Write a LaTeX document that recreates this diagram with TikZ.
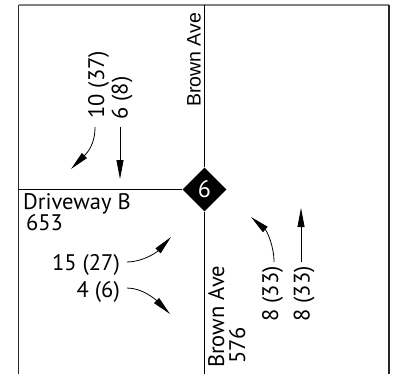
\documentclass[tikz,border=0pt]{standalone}
\usepackage{fontspec}
\setmainfont{PT Sans}
\newfontfamily\arialfont{Liberation Sans}
\usetikzlibrary{arrows.meta}
\begin{document}
\begin{tikzpicture}[x=1pt,y=-1pt,
  lbl/.style={inner sep=0pt, font=\fontsize{22.5}{24}\selectfont},
  road/.style={line width=1pt, black},
  frame/.style={line width=1.4pt},
  mv/.style={line width=0.8pt, -{Triangle[length=19pt,width=7pt]}}]
\useasboundingbox (0,0) rectangle (398,374);
% frame
\draw[frame, gray] (18.5,5) -- (389,5);
\draw[frame, black!85] (18.5,5) -- (18.5,374);
\draw[frame, black!85] (389,5) -- (389,374);
% roads
\node[fill=black, minimum width=31pt, minimum height=31pt, rotate=45, inner sep=0pt] (int) at (204.5,189.5) {};
\node[text=white, font=\fontsize{24}{25}\selectfont] (num) at (204.5,189.5) {6};
\coordinate (ntop) at (204.5,5);
\coordinate (sbot) at (204.5,374);
\coordinate (wend) at (19,189.5);
\draw[road] (ntop) -- (int.north east);
\draw[road] (int.south west) -- (sbot);
\draw[road] (wend) -- (int.north west);
% street names
\node[lbl, font=\arialfont\fontsize{19.5}{21}\selectfont, rotate=90, anchor=base west] (brownN) at (200.5,107) {Brown Ave};
\node[lbl, rotate=90, anchor=base west] (brownS) at (224,368) {Brown Ave};
\node[lbl, rotate=90, anchor=base west] (brownSv) at (245,364) {576};
\node[lbl, anchor=base west] (drive) at (23,209) {Driveway B};
\node[lbl, anchor=base west] (drivev) at (26,230) {653};
% volume labels
\node[lbl, rotate=90, anchor=base west] (v1) at (104,119) {10 (37)};
\node[lbl, rotate=90, anchor=base west] (v2) at (127.5,120) {6 (8)};
\node[lbl, anchor=base east] (v3) at (120,270) {15 (27)};
\node[lbl, anchor=base east] (v4) at (120,297) {4 (6)};
\node[lbl, rotate=90, anchor=base west] (v5) at (278,322) {8 (33)};
\node[lbl, rotate=90, anchor=base west] (v6) at (309.5,322) {8 (33)};
% movement arrows
\coordinate (a1s) at (95,127);  \coordinate (a1e) at (71,169);
\coordinate (a2s) at (120,127); \coordinate (a2e) at (120,179);
\coordinate (a3s) at (127,262); \coordinate (a3e) at (171,237);
\coordinate (a4s) at (127,288); \coordinate (a4e) at (170,314);
\coordinate (a5s) at (274,262); \coordinate (a5e) at (251,217);
\coordinate (a6s) at (301,262); \coordinate (a6e) at (301,208);
\draw[mv] (a1s) .. controls (95,145) and (87,153) .. (a1e);
\draw[mv] (a2s) -- (a2e);
\draw[mv] (a3s) .. controls (142,262) and (156,253) .. (a3e);
\draw[mv] (a4s) .. controls (142,288) and (155,299) .. (a4e);
\draw[mv] (a5s) .. controls (274,246) and (267,231) .. (a5e);
\draw[mv] (a6s) -- (a6e);
\end{tikzpicture}
\end{document}
